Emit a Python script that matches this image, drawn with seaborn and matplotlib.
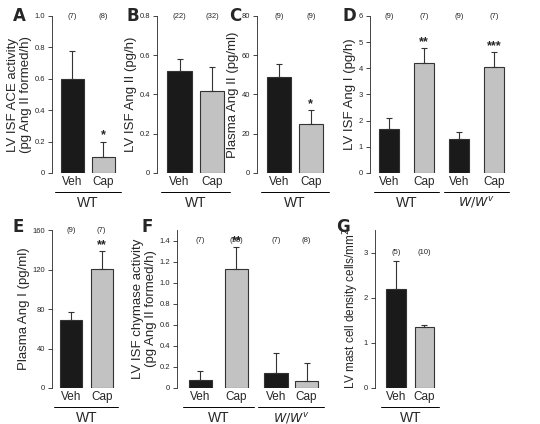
import numpy as np
import seaborn as sns
import matplotlib.pyplot as plt
from matplotlib.transforms import blended_transform_factory

sns.set_style("ticks")
plt.rcParams['font.family'] = ['Liberation Sans', 'DejaVu Sans']

W, H = 540, 424

# panel data
a_means = [0.6, 0.1]; a_err = [0.18, 0.1]; a_n = ["(7)", "(8)"]; a_stars = ["", "*"]
b_means = [0.52, 0.42]; b_err = [0.06, 0.12]; b_n = ["(22)", "(32)"]; b_stars = ["", ""]
c_means = [49, 25]; c_err = [6.5, 7]; c_n = ["(9)", "(9)"]; c_stars = ["", "*"]
d_means = [1.7, 4.2, 1.3, 4.05]; d_err = [0.4, 0.57, 0.25, 0.57]
d_n = ["(9)", "(7)", "(9)", "(7)"]; d_stars = ["", "**", "", "***"]
e_means = [69, 121]; e_err = [8, 18]; e_n = ["(9)", "(7)"]; e_stars = ["", "**"]
f_means = [0.08, 1.13, 0.14, 0.07]; f_err = [0.08, 0.21, 0.19, 0.17]
f_n = ["(7)", "(18)", "(7)", "(8)"]; f_stars = ["", "**", "", ""]
g_means = [2.2, 1.35]; g_err = [0.62, 0.05]; g_n = ["(5)", "(10)"]; g_stars = ["", ""]

treat = ["Veh", "Cap"]
dark = "#1a1a1a"
light = "#c2c2c2"

fig = plt.figure(figsize=(W / 100, H / 100), dpi=100)


def panel(rect, letter, means, errs, ns, stars, ylabel, ylim, yticks, tickfmt,
          pos, xlim, width, groups, ylab_size=9.5):
    x0, y0, x1, y1 = rect
    ax = fig.add_axes([x0 / W, 1 - y1 / H, (x1 - x0) / W, (y1 - y0) / H])
    cols = [dark, light] * (len(means) // 2)
    ax.bar(pos, means, width, color=cols, edgecolor="#333333", linewidth=0.8)
    ax.errorbar(pos, means, yerr=[np.zeros(len(errs)), errs], fmt="none",
                ecolor="#333333", elinewidth=0.8, capsize=2.5, capthick=0.8)
    ax.set_xlim(*xlim)
    ax.set_ylim(*ylim)
    ax.set_yticks(yticks)
    ax.set_yticklabels([tickfmt(t) for t in yticks], fontsize=5.5)
    ax.tick_params(axis="y", length=3, width=0.6, pad=2)
    ax.set_xticks([])
    sns.despine(ax=ax, bottom=True)
    ax.spines["left"].set_linewidth(0.6)
    ax.set_ylabel(ylabel, fontsize=ylab_size, labelpad=2, linespacing=1.1)
    tr = blended_transform_factory(ax.transData, ax.transAxes)
    ntop = yticks[-1] / ylim[1]
    for p, m, e, n, s in zip(pos, means, errs, ns, stars):
        ax.text(p, ntop, n, transform=tr, ha="center", va="center", fontsize=5.5)
        if s:
            ax.text(p, m + e, s, ha="center", va="bottom",
                    fontsize=9, fontweight="bold")
    hpx = y1 - y0
    for i, (glabel, italic) in enumerate(groups):
        p0, p1 = pos[2 * i], pos[2 * i + 1]
        for p, t in zip((p0, p1), treat):
            ax.text(p, -9 / hpx, t, transform=tr, ha="center", va="center", fontsize=8.5)
        half = width * 0.75
        ax.plot([p0 - half, p1 + half], [-19 / hpx] * 2, transform=tr, color="black",
                lw=0.7, clip_on=False)
        if italic:
            ax.text((p0 + p1) / 2, -30 / hpx, r"$W/W^{v}$", transform=tr, ha="center",
                    va="center", fontsize=9, family="DejaVu Sans")
        else:
            ax.text((p0 + p1) / 2, -30 / hpx, glabel, transform=tr, ha="center",
                    va="center", fontsize=10)
    fig.text(letter[1] / W, 1 - letter[2] / H, letter[0], fontsize=12, fontweight="bold",
             ha="center", va="center", family="DejaVu Sans")
    return ax


f1 = lambda t: f"{t:.1f}" if t else "0"
f0 = lambda t: f"{t:g}"

panel((52, 16, 117, 173), ("A", 19, 16), a_means, a_err, a_n, a_stars,
      "LV ISF ACE activity\n(pg Ang II formed/h)", (0, 1.0), np.arange(0, 1.01, 0.2), f1,
      [0, 1], (-0.66, 1.44), 0.74, [("WT", False)])
panel((157, 16, 228, 173), ("B", 133, 16), b_means, b_err, b_n, b_stars,
      "LV ISF Ang II (pg/h)", (0, 0.8), np.arange(0, 0.81, 0.2), f1,
      [0, 1], (-0.7, 1.5), 0.75, [("WT", False)])
panel((257, 16, 325, 173), ("C", 235, 16), c_means, c_err, c_n, c_stars,
      "Plasma Ang II (pg/ml)", (0, 80), [0, 20, 40, 60, 80], f0,
      [0, 1], (-0.7, 1.45), 0.75, [("WT", False)])
panel((370, 16, 510, 173), ("D", 349, 16), d_means, d_err, d_n, d_stars,
      "LV ISF Ang I (pg/h)", (0, 6), [0, 1, 2, 3, 4, 5, 6], f0,
      [0, 1, 2, 3], (-0.55, 3.45), 0.58, [("WT", False), ("W", True)])
panel((52, 230, 117, 388), ("E", 18, 227), e_means, e_err, e_n, e_stars,
      "Plasma Ang I (pg/ml)", (0, 160), [0, 40, 80, 120, 160], f0,
      [0, 1], (-0.62, 1.5), 0.72, [("WT", False)])
panel((177, 230, 330, 388), ("F", 147, 227), f_means, f_err, f_n, f_stars,
      "LV ISF chymase activity\n(pg Ang II formed/h)", (0, 1.5), np.arange(0, 1.41, 0.2), f1,
      [0, 1, 2.1, 2.95], (-0.65, 3.6), 0.66, [("WT", False), ("W", True)])
panel((375, 230, 437, 388), ("G", 343, 227), g_means, g_err, g_n, g_stars,
      "LV mast cell density cells/mm$^2$", (0, 3.5), [0, 1, 2, 3], f0,
      [0, 1], (-0.74, 1.44), 0.7, [("WT", False)], ylab_size=8.5)

fig.savefig("out.png", dpi=100)
